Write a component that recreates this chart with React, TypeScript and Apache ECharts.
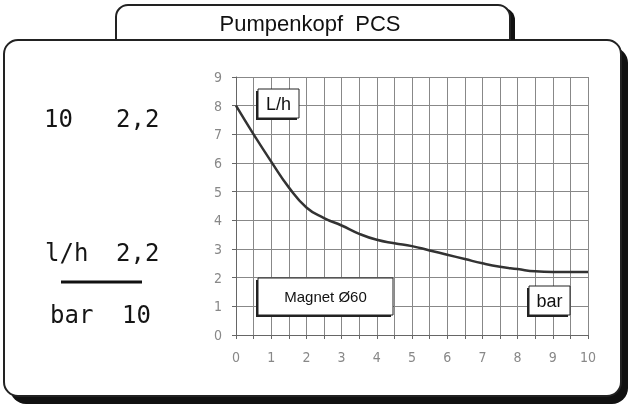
import React, { useEffect, useRef } from "react";
import * as echarts from "echarts";

const pressureBar = [0, 0.5, 1, 1.5, 2, 2.5, 3, 3.5, 4, 4.5, 5, 5.5, 6, 6.5, 7, 7.5, 8, 8.5, 9, 9.5, 10];
const flowLh = [8, 7, 6.05, 5.15, 4.45, 4.08, 3.82, 3.53, 3.32, 3.2, 3.1, 2.95, 2.8, 2.65, 2.5, 2.38, 2.3, 2.22, 2.2, 2.2, 2.2];
const title = "Pumpenkopf  PCS";
const unitY = "L/h";
const unitX = "bar";
const magnetLabel = "Magnet Ø60";
const sideTop = ["10", "2,2"];
const sideMid = ["l/h", "2,2"];
const sideBot = ["bar", "10"];

export default function App() {
  const ref = useRef<HTMLDivElement>(null);
  useEffect(() => {
    if (!ref.current) return;
    const chart = echarts.init(ref.current, null, { renderer: "svg" });
    const mono = "'DejaVu Sans Mono', monospace";
    const sans = "'Liberation Sans', Arial, sans-serif";
    const narrow = "'Liberation Sans Narrow', 'DejaVu Sans Condensed', 'Liberation Sans', Arial, sans-serif";
    const box = (x: number, y: number, w: number, h: number, label: string, fs: number) => [
      { type: "rect", z: 100, shape: { x: x - 2, y: y + 2, width: w, height: h }, style: { fill: "#222" } },
      { type: "rect", z: 101, shape: { x, y, width: w, height: h }, style: { fill: "#fff", stroke: "#222", lineWidth: 1 } },
      {
        type: "text", z: 102, x: x + w / 2, y: y + h / 2,
        style: { text: label, fontSize: fs, fontFamily: sans, fill: "#111", align: "center", verticalAlign: "middle" },
      },
    ];
    const sideText = (x: number, y: number, t: string) => ({
      type: "text", z: 50, x, y,
      style: { text: t, fontSize: 24, fontFamily: mono, fill: "#151515", align: "left", verticalAlign: "middle" },
    });
    chart.setOption({
      animation: false,
      grid: { left: 236, right: 42, top: 77, bottom: 73 },
      xAxis: {
        type: "value", min: 0, max: 10, interval: 0.5,
        axisLine: { show: true, lineStyle: { color: "#666", width: 1 } },
        axisTick: { show: true, length: 4, lineStyle: { color: "#666" } },
        splitLine: { show: true, lineStyle: { color: "#888", width: 1 } },
        axisLabel: {
          color: "#888", fontSize: 14, fontFamily: narrow, margin: 15,
          formatter: (v: number) => (Number.isInteger(v) ? String(v) : ""),
        },
      },
      yAxis: {
        type: "value", min: 0, max: 9, interval: 1,
        axisLine: { show: true, lineStyle: { color: "#666", width: 1 } },
        axisTick: { show: true, length: 4, lineStyle: { color: "#666" } },
        splitLine: { show: true, lineStyle: { color: "#888", width: 1 } },
        axisLabel: { color: "#888", fontSize: 14, fontFamily: narrow, margin: 14 },
      },
      series: [
        {
          type: "line",
          data: pressureBar.map((x, i) => [x, flowLh[i]]),
          smooth: 0.5,
          symbol: "none",
          lineStyle: { color: "#333", width: 2.5 },
          z: 5,
        },
      ],
      graphic: [
        { type: "rect", z: -20, shape: { x: 10, y: 47, width: 618, height: 357, r: 16 }, style: { fill: "#111" } },
        { type: "rect", z: -19, shape: { x: 4, y: 40, width: 617, height: 356, r: 14 }, style: { fill: "#fff", stroke: "#222", lineWidth: 2 } },
        { type: "rect", z: -18, shape: { x: 121, y: 8, width: 394, height: 32, r: [12, 12, 0, 0] }, style: { fill: "#111" } },
        { type: "rect", z: -17, shape: { x: 116, y: 5, width: 394, height: 35, r: [12, 12, 0, 0] }, style: { fill: "#fff", stroke: "#222", lineWidth: 2 } },
        {
          type: "text", z: 50, x: 310, y: 23,
          style: { text: title, fontSize: 22, fontFamily: sans, fill: "#111", align: "center", verticalAlign: "middle" },
        },
        sideText(44, 119, sideTop[0]),
        sideText(116, 119, sideTop[1]),
        sideText(45, 253, sideMid[0]),
        sideText(116, 253, sideMid[1]),
        { type: "line", z: 50, shape: { x1: 61, y1: 282, x2: 142, y2: 282 }, style: { stroke: "#111", lineWidth: 3 } },
        sideText(50, 315, sideBot[0]),
        sideText(122, 315, sideBot[1]),
        ...box(258, 89, 41, 29, unitY, 18),
        ...box(258, 278, 135, 37, magnetLabel, 15),
        ...box(529, 286, 41, 29, unitX, 18),
      ],
    });
    return () => chart.dispose();
  }, []);
  return <div ref={ref} style={{ position: "fixed", left: 0, top: 0, width: 630, height: 408 }} />;
}
